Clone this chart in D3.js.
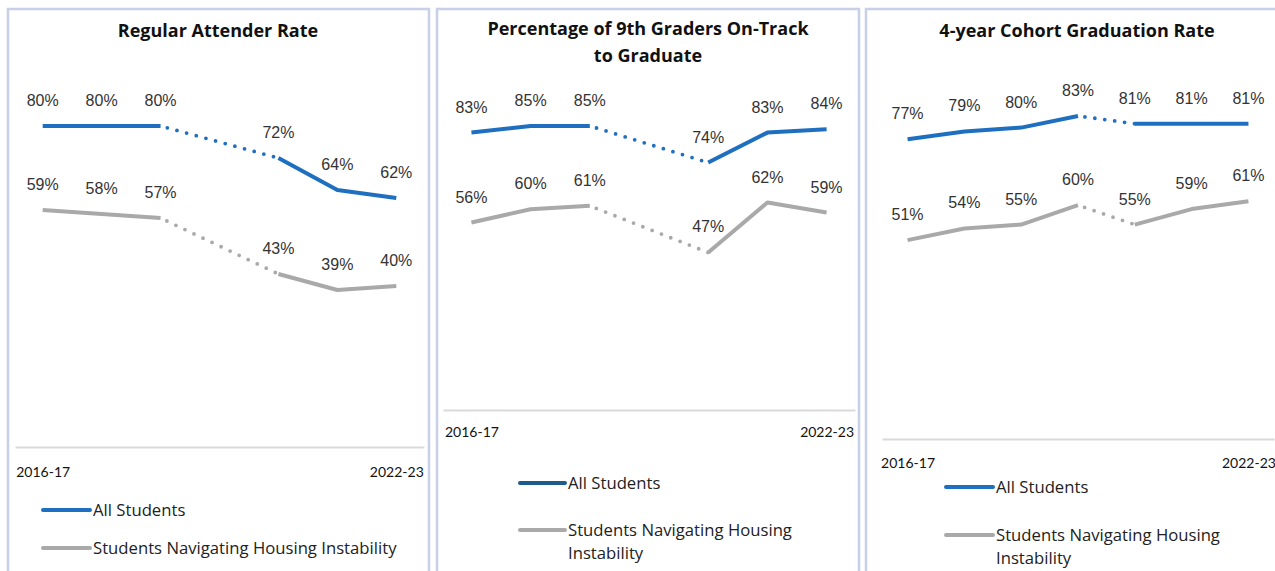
<!DOCTYPE html>
<html>
<head>
<meta charset="utf-8">
<script src="https://cdn.jsdelivr.net/npm/d3@7"></script>
<style>
  html, body { margin: 0; padding: 0; background: #ffffff; }
  svg { display: block; }
</style>
</head>
<body>
<svg id="chart" width="1275" height="571"></svg>
<script>
// ---------- DATA ----------
const years = ["2016-17", "2017-18", "2018-19", "2019-20", "2020-21", "2021-22", "2022-23"];
const tickLabels = ["2016-17", "2022-23"];
const seriesNames = ["All Students", "Students Navigating Housing Instability"];

const attendAll = [80, 80, 80, null, 72, 64, 62];
const attendHI  = [59, 58, 57, null, 43, 39, 40];

const onTrackAll = [83, 85, 85, null, 74, 83, 84];
const onTrackHI  = [56, 60, 61, null, 47, 62, 59];

const gradAll = [77, 79, 80, 83, 81, 81, 81];
const gradHI  = [51, 54, 55, 60, 55, 59, 61];

const titles = [
  ["Regular Attender Rate"],
  ["Percentage of 9th Graders On-Track", "to Graduate"],
  ["4-year Cohort Graduation Rate"]
];
// index of the point where the dotted segment starts
const dottedStart = [2, 2, 3];

// ---------- LAYOUT (styles/positions only) ----------
const BLUE = "#1f6fc1", GRAY = "#a9a9a9", BORDER = "#c8d0e8";
const panels = [
  { data: [attendAll, attendHI], frame: [8, 429], axis: [15, 424], pad: 0.47, y0: 446, y100: 46, axisY: 447,
    tickY: 477, titleX: 218, titleY: [37], leg: { x0: 43, x1: 90, ys: [510, 548], wrap: false }, legBlue: "#1f6fc1" },
  { data: [onTrackAll, onTrackHI], frame: [437, 859], axis: [443, 855], pad: 0.48, y0: 409, y100: 76, axisY: 410,
    tickY: 437, titleX: 648, titleY: [35, 62], leg: { x0: 520, x1: 565, ys: [483, 530], wrap: true }, legBlue: "#1d5b8c" },
  { data: [gradAll, gradHI], frame: [866, 1300], axis: [882, 1274], pad: 0.45, y0: 438, y100: 50, axisY: 439,
    tickY: 468, titleX: 1077, titleY: [37], leg: { x0: 946, x1: 993, ys: [487, 535], wrap: true }, legBlue: "#1f6fc1" }
];

const svg = d3.select("#chart");

panels.forEach((p, pi) => {
  const g = svg.append("g");

  // frame
  g.append("path")
    .attr("d", `M${p.frame[0]},600 V9 H${p.frame[1]} V600`)
    .attr("fill", "none").attr("stroke", BORDER).attr("stroke-width", 2.5);

  const x = d3.scalePoint().domain(years).range(p.axis).padding(p.pad);
  const y = d3.scaleLinear().domain([0, 100]).range([p.y0, p.y100]);

  // title
  titles[pi].forEach((t, ti) => {
    g.append("text").text(t)
      .attr("x", p.titleX).attr("y", p.titleY[ti])
      .attr("text-anchor", "middle")
      .attr("font-family", "'Open Sans', Lato, sans-serif")
      .attr("font-weight", "bold").attr("font-size", 18)
      .attr("fill", "#111");
  });

  // x axis
  const ax = g.append("g").attr("transform", `translate(0,${p.axisY})`)
    .call(d3.axisBottom(x).tickValues(tickLabels).tickSize(0).tickSizeOuter(0));
  ax.select(".domain").attr("stroke", "#d9d9d9").attr("stroke-width", 2);
  ax.selectAll("text")
    .attr("y", p.tickY - p.axisY).attr("dy", 0)
    .attr("font-family", "Lato, sans-serif").attr("font-size", 14)
    .attr("fill", "#111");

  // series
  const colors = [BLUE, GRAY];
  p.data.forEach((vals, si) => {
    const pts = years.map((yr, i) => ({ yr, i, v: vals[i] })).filter(d => d.v != null);
    const ds = dottedStart[pi];
    const k = pts.findIndex(d => d.i === ds);
    const solidA = pts.slice(0, k + 1), solidB = pts.slice(k + 1), dotted = pts.slice(k, k + 2);
    const line = d3.line().x(d => x(d.yr)).y(d => y(d.v));

    [solidA, solidB].forEach(seg => {
      if (seg.length > 1) {
        g.append("path").attr("d", line(seg))
          .attr("fill", "none").attr("stroke", colors[si])
          .attr("stroke-width", 4).attr("stroke-linejoin", "round").attr("stroke-linecap", "butt");
      }
    });
    g.append("path").attr("d", line(dotted))
      .attr("fill", "none").attr("stroke", colors[si])
      .attr("stroke-width", 3.8).attr("stroke-linecap", "round")
      .attr("stroke-dasharray", "0 10").attr("stroke-dashoffset", -7);

    g.selectAll(null).data(pts).enter().append("text")
      .attr("x", d => x(d.yr)).attr("y", d => y(d.v) - 20)
      .attr("text-anchor", "middle")
      .attr("font-family", "'Liberation Sans', Arial, sans-serif")
      .attr("font-size", 16).attr("fill", "#333")
      .text(d => d.v + "%");
  });

  // legend
  const legColors = [p.legBlue, GRAY];
  seriesNames.forEach((name, si) => {
    const ly = p.leg.ys[si];
    g.append("line").attr("x1", p.leg.x0).attr("x2", p.leg.x1)
      .attr("y1", ly).attr("y2", ly)
      .attr("stroke", legColors[si]).attr("stroke-width", 4).attr("stroke-linecap", "round");
    const lines = (p.leg.wrap && si === 1) ? ["Students Navigating Housing", "Instability"] : [name];
    lines.forEach((t, li) => {
      g.append("text").text(t)
        .attr("x", p.leg.x1 + 3).attr("y", ly + 6 + li * 23)
        .attr("font-family", "'Open Sans', sans-serif").attr("font-size", 16.7)
        .attr("fill", "#222");
    });
  });
});
</script>
</body>
</html>
